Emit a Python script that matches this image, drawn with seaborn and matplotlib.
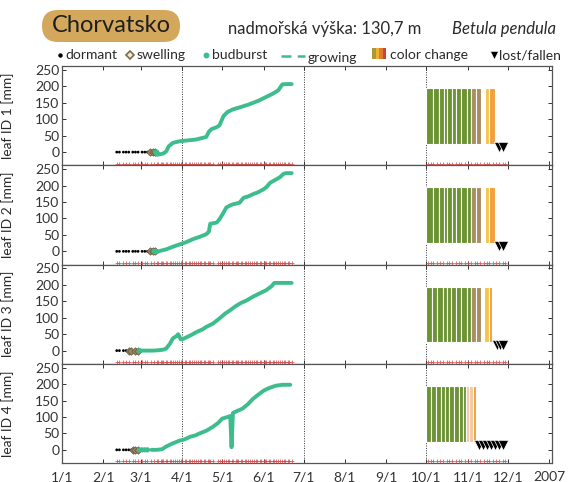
import numpy as np
import pandas as pd
import matplotlib
matplotlib.use("Agg")
import matplotlib.pyplot as plt
from matplotlib.patches import FancyBboxPatch, Rectangle
import seaborn as sns

# ---------------- data ----------------
month_days = [0, 31, 59, 90, 120, 151, 181, 212, 243, 273, 304, 334, 365]
month_labels = ["1/1", "2/1", "3/1", "4/1", "5/1", "6/1", "7/1", "8/1", "9/1",
                "10/1", "11/1", "12/1", "2007"]
y_ticks = [0, 50, 100, 150, 200, 250]
leaf_labels = ["leaf ID 1 [mm]", "leaf ID 2 [mm]", "leaf ID 3 [mm]", "leaf ID 4 [mm]"]

obs_days = [41, 43, 46, 48, 50, 53, 55, 57, 60, 62, 64, 67, 69, 71, 72, 74, 75, 76,
            78, 79, 81, 82, 83, 85, 86, 88, 89, 90, 92, 93, 95, 96, 97, 99, 100, 102,
            103, 104, 106, 107, 109, 110, 111, 113, 117, 118, 120, 121, 123, 124, 125,
            127, 128, 130, 131, 132, 134, 135, 137, 138, 139, 141, 142, 144, 145, 146,
            148, 149, 151, 152, 153, 155, 156, 158, 159, 160, 162, 163, 165, 166, 167,
            169, 170, 172,
            274, 276, 278, 281, 283, 285, 288, 290, 292, 295, 297, 299, 302, 304, 306,
            309, 311, 313, 316, 318, 320, 323, 325, 327, 330, 332]

dormant_1 = [41, 43, 46, 48, 50, 53, 55, 57, 60, 62, 64]
swelling_1 = [66, 68, 70]
budburst_1 = [70, 71]
days_1 = [71, 73, 76, 78, 80, 83, 88, 95, 100, 104, 108, 110, 112, 116, 118, 121,
          124, 128, 133, 140, 147, 153, 158, 162, 165, 168, 172]
mm_1 = [-8, -7, -4, 2, 18, 28, 33, 36, 38, 42, 46, 62, 70, 76, 82, 110, 122, 130,
        136, 145, 156, 168, 178, 188, 206, 207, 207]

dormant_2 = [41, 43, 46, 48, 50, 53, 55, 57, 60, 62, 64]
swelling_2 = [66, 68, 70]
budburst_2 = [69, 70]
days_2 = [70, 73, 78, 83, 88, 93, 98, 103, 108, 110, 111, 114, 116, 118, 121, 123,
          126, 128, 131, 133, 136, 140, 143, 147, 151, 153, 156, 160, 163, 166, 168, 172]
mm_2 = [-4, 1, 6, 14, 21, 28, 37, 44, 52, 60, 84, 86, 88, 98, 118, 133, 140, 143,
        146, 148, 163, 168, 174, 180, 189, 195, 209, 218, 225, 236, 238, 238]

dormant_3 = [41, 43, 46, 48]
swelling_3 = [50, 52, 55, 57]
budburst_3 = [58]
days_3 = [58, 62, 68, 72, 76, 78, 81, 83, 86, 87, 89, 91, 93, 97, 101, 105, 108, 113,
          118, 122, 126, 130, 134, 138, 143, 148, 153, 157, 159, 165, 172]
mm_3 = [0, 0, 0, 1, 3, 6, 22, 37, 45, 50, 34, 36, 40, 48, 57, 64, 72, 82, 98, 112,
        123, 135, 145, 152, 164, 174, 184, 196, 206, 206, 206]

dormant_4 = [41, 43, 46, 48, 50, 52]
swelling_4 = [53, 55, 57]
budburst_4 = [58, 60, 62, 64]
days_4 = [67, 71, 75, 78, 82, 88, 92, 96, 100, 103, 108, 113, 117, 120, 124, 126,
          127, 128, 131, 135, 139, 143, 147, 151, 155, 160, 165, 171]
mm_4 = [0, 0, 2, 10, 18, 28, 32, 40, 44, 50, 58, 70, 82, 95, 100, 103, 8, 112, 118,
        125, 138, 155, 168, 180, 188, 195, 198, 198]

# colour change: interval start, interval end, stage
cc_start_1 = [273, 278, 282, 286, 288.5, 292, 295, 299, 303, 306, 310, 316.5, 320]
cc_end_1 = [278, 282, 286, 288.5, 292, 295, 299, 303, 306, 310, 314, 320, 324.5]
cc_stage_1 = ["g"] * 9 + ["b", "b", "y", "o"]
cc_start_2 = [273, 278, 282, 286, 288.5, 292, 295, 299, 303, 306, 310, 316.5, 320]
cc_end_2 = [278, 282, 286, 288.5, 292, 295, 299, 303, 306, 310, 314, 320, 324.5]
cc_stage_2 = ["g"] * 9 + ["b", "b", "y", "o"]
cc_start_3 = [273, 277, 281, 285, 288, 291, 295, 299, 303, 306.5, 310, 316, 319.5]
cc_end_3 = [277, 281, 285, 288, 291, 295, 299, 303, 306.5, 310, 314, 319.5, 322]
cc_stage_3 = ["g"] * 9 + ["b", "b", "y", "o"]
cc_start_4 = [272.5, 276, 280, 284, 287, 290, 293.5, 297, 300, 302.7, 305, 307.6]
cc_end_4 = [276, 280, 284, 287, 290, 293.5, 297, 300, 302.7, 305, 307.6, 310]
cc_stage_4 = ["g"] * 9 + ["p", "p", "o"]

fallen_1 = [327, 330]
fallen_2 = [327, 330]
fallen_3 = [326, 328, 330]
fallen_4 = [312, 315, 318, 321, 324, 327, 330]

# ---------------- style ----------------
sns.set_style("ticks")
plt.rcParams['font.family'] = ['Lato', 'DejaVu Sans']

GREEN_LINE = "#3dbd8e"
STAGE_COL = {"g": "#6b9333", "b": "#a98c5f", "y": "#f6c545", "o": "#f2a03d",
             "p": "#f3c9a0"}
RED = "#d84848"
TXT = "#2a2a2a"

W, H = 574, 482
fig = plt.figure(figsize=(W / 100, H / 100), dpi=100)

left_px, right_px = 62, 552
top_px, bottom_px = 66, 463
ph = (bottom_px - top_px) / 4

panels = [
    (dormant_1, swelling_1, budburst_1, days_1, mm_1, cc_start_1, cc_end_1, cc_stage_1, fallen_1),
    (dormant_2, swelling_2, budburst_2, days_2, mm_2, cc_start_2, cc_end_2, cc_stage_2, fallen_2),
    (dormant_3, swelling_3, budburst_3, days_3, mm_3, cc_start_3, cc_end_3, cc_stage_3, fallen_3),
    (dormant_4, swelling_4, budburst_4, days_4, mm_4, cc_start_4, cc_end_4, cc_stage_4, fallen_4),
]

for i, (dorm, swell, bud, days, mm, cs, ce, cst, fall) in enumerate(panels):
    top = top_px + i * ph
    ax = fig.add_axes([left_px / W, 1 - (top + ph) / H, (right_px - left_px) / W, ph / H])

    # colour change bars
    widths = [e - s for s, e in zip(cs, ce)]
    ax.bar(cs, [170] * len(cs), bottom=25, width=widths, align="edge",
           color=[STAGE_COL[c] for c in cst], edgecolor="white", linewidth=0.8, zorder=2)

    for d in (90, 181, 273):
        ax.axvline(d, color="#333333", ls=(0, (1, 1.5)), lw=0.7, zorder=1)

    sns.scatterplot(x=obs_days, y=[-35] * len(obs_days), marker="+", color=RED,
                    s=7, linewidth=0.6, alpha=0.85, ax=ax, legend=False, zorder=3)
    sns.scatterplot(x=dorm, y=[0] * len(dorm), marker="o", color="black", s=4,
                    edgecolor="none", ax=ax, legend=False, zorder=4)
    sns.scatterplot(x=swell, y=[0] * len(swell), marker="D", color="#9c8c6a", s=14,
                    edgecolor="#6a5a3c", linewidth=0.6, ax=ax, legend=False, zorder=4)
    sns.scatterplot(x=bud, y=[0] * len(bud), marker="o", color=GREEN_LINE, s=14,
                    edgecolor="none", ax=ax, legend=False, zorder=4)
    sns.lineplot(x=days, y=mm, color=GREEN_LINE, linewidth=2.8, ax=ax,
                 estimator=None, sort=False, legend=False, zorder=5)
    sns.scatterplot(x=fall, y=[16] * len(fall), marker="v", color="black", s=55,
                    edgecolor="white", linewidth=0.5, ax=ax, legend=False, zorder=6)

    ax.set_xlim(0, 367)
    ax.set_ylim(-40, 262)
    ax.set_yticks(y_ticks)
    ax.set_xticks(month_days)
    ax.set_xticklabels(month_labels)
    ax.tick_params(direction="in", top=True, right=True, length=3, width=0.7,
                   labelsize=10, pad=2, colors="#333333")
    ax.tick_params(axis="x", labelbottom=(i == 3), pad=6)
    ax.set_xlabel("")
    ax.set_ylabel(leaf_labels[i], fontsize=10, color=TXT)
    ax.yaxis.set_label_coords(-0.098, 0.5)
    for sp in ax.spines.values():
        sp.set_color("#555555")
        sp.set_linewidth(0.9)
        sp.set_visible(True)

# ---------------- header & legend (pixel overlay) ----------------
ov = fig.add_axes([0, 0, 1, 1])
ov.set_xlim(0, W)
ov.set_ylim(H, 0)
ov.axis("off")
ov.patch.set_alpha(0)

ov.add_patch(FancyBboxPatch((42, 10), 138, 32, boxstyle="round,pad=0,rounding_size=16",
                            fc="#d4a85c", ec="none"))
ov.text(111, 26, "Chorvatsko", ha="center", va="center", fontsize=17, color="#1e1e1e")
ov.text(228, 29, "nadmořská výška: 130,7 m", ha="left", va="center", fontsize=12,
        color=TXT)
ov.text(556, 29, "Betula pendula", ha="right", va="center", fontsize=12,
        style="italic", color=TXT)

ly = 55
fs = 10
ov.plot(60, ly, "o", ms=2.2, color="black")
ov.text(65, ly, "dormant", va="center", fontsize=fs, color=TXT)
ov.plot(130, ly - 0.5, "D", ms=4.2, mfc="#f0ead8", mec="#7d6c48", mew=1.2)
ov.text(137, ly, "swelling", va="center", fontsize=fs, color=TXT)
ov.plot(206, ly - 0.5, "o", ms=3.2, color=GREEN_LINE)
ov.text(212, ly, "budburst", va="center", fontsize=fs, color=TXT)
ov.plot([281, 305], [ly + 1, ly + 1], ls=(0, (4, 2.5)), lw=1.8, color=GREEN_LINE)
ov.text(308, ly + 3, "growing", va="center", fontsize=fs, color=TXT)
for k, c in enumerate(["#a89a3a", "#f0b030", "#e07a30", "#c8443a"]):
    ov.add_patch(Rectangle((372 + k * 3.5, 48), 3.5, 11, fc=c, ec="none"))
ov.text(390, ly, "color change", va="center", fontsize=fs, color=TXT)
ov.plot(494, ly - 0.5, "v", ms=6, color="black", mec="white", mew=0.4)
ov.text(499, ly, "lost/fallen", va="center", fontsize=fs, color=TXT)

fig.savefig("out.png", dpi=100)
